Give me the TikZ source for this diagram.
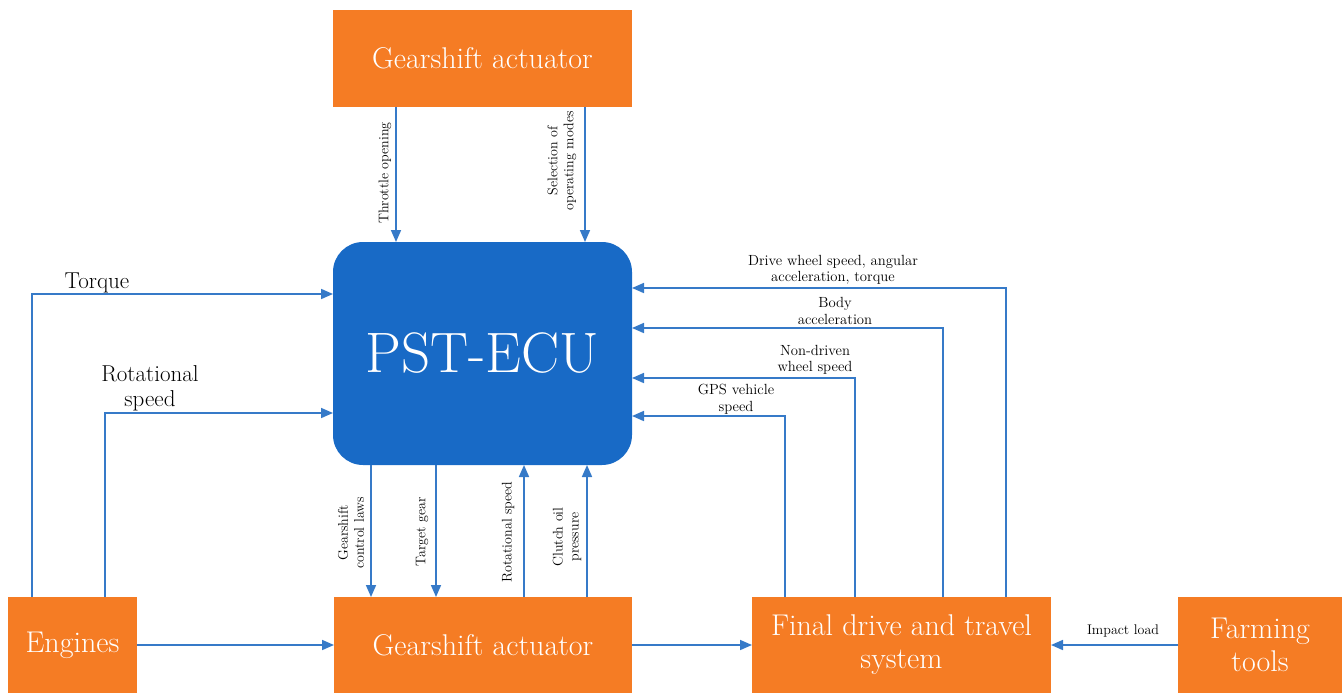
\documentclass[tikz,border=0pt]{standalone}
\usetikzlibrary{arrows.meta}
\definecolor{orangebox}{RGB}{245,124,36}
\definecolor{ecublue}{RGB}{24,106,198}
\definecolor{linkblue}{RGB}{54,122,200}
\begin{document}
\begin{tikzpicture}[x=1pt,y=-1pt,
  obox/.style={fill=orangebox, draw=none, text=white, inner sep=0pt, outer sep=0pt, align=center,
    font=\fontsize{30}{33}\selectfont},
  arr/.style={draw=linkblue, line width=1.7pt, -{Triangle[length=12pt,width=10pt]}},
  lab/.style={inner sep=0pt, align=center, font=\fontsize{14}{16}\selectfont},
  hlab/.style={inner sep=0pt, align=center, font=\fontsize{14.7}{16.5}\selectfont},
  biglab/.style={inner sep=0pt, align=center, font=\fontsize{23}{25}\selectfont}]
\useasboundingbox (0,0) rectangle (1342,693);
% boxes
\node[obox, minimum width=299pt, minimum height=97pt, anchor=north west] (gstop) at (333,10) {Gearshift actuator};
\node[fill=ecublue, rounded corners=30pt, text=white, inner sep=0pt, outer sep=0pt,
  minimum width=299pt, minimum height=223pt, anchor=north west,
  font=\fontsize{57}{64}\selectfont] (ecu) at (333,242) {PST-ECU};
\node[obox, minimum width=129pt, minimum height=96pt, anchor=north west] (eng) at (8,597) {Engines};
\node[obox, minimum width=298pt, minimum height=96pt, anchor=north west] (gsb) at (334,597) {Gearshift actuator};
\node[obox, minimum width=299pt, minimum height=96pt, anchor=north west] (fd) at (752,597) {Final drive and travel\\system};
\node[obox, minimum width=164pt, minimum height=96pt, anchor=north west] (farm) at (1178,597) {Farming\\tools};
% top arrows
\draw[arr] ([xshift=63pt]gstop.south west) -- ([xshift=63pt]ecu.north west);
\draw[arr] ([xshift=252pt]gstop.south west) -- ([xshift=252pt]ecu.north west);
\node[lab, rotate=90] (tthr) at (385,173) {Throttle opening};
\node[lab, rotate=90] (tsel) at (562,161) {Selection of\\operating modes};
% left arrows
\coordinate (l1) at ([xshift=24pt]eng.north west);
\coordinate (l2) at ([xshift=97pt]eng.north west);
\draw[arr] (l1) |- ([yshift=-52pt]ecu.north west);
\draw[arr] (l2) |- ([yshift=-171pt]ecu.north west);
\node[biglab] (ttor) at (97,283) {Torque};
\node[biglab] (trot) at (150,388) {Rotational\\speed};
% right arrows
\coordinate (r1) at ([xshift=254pt]fd.north west);
\coordinate (r2) at ([xshift=191pt]fd.north west);
\coordinate (r3) at ([xshift=103pt]fd.north west);
\coordinate (r4) at ([xshift=33pt]fd.north west);
\draw[arr] (r1) |- ([yshift=-46pt]ecu.north east);
\draw[arr] (r2) |- ([yshift=-86pt]ecu.north east);
\draw[arr] (r3) |- ([yshift=-136pt]ecu.north east);
\draw[arr] (r4) |- ([yshift=-174pt]ecu.north east);
\node[hlab] (tdw) at (833,270) {Drive wheel speed, angular\\acceleration, torque};
\node[hlab] (tba) at (835,311) {Body\\acceleration};
\node[hlab] (tnd) at (815,360) {Non-driven\\wheel speed};
\node[hlab] (tgps) at (736,399) {GPS vehicle\\speed};
% bottom arrows
\coordinate (b1) at ([xshift=38pt]ecu.south west);
\coordinate (b2) at ([xshift=103pt]ecu.south west);
\coordinate (b3) at ([xshift=191pt]ecu.south west);
\coordinate (b4) at ([xshift=254pt]ecu.south west);
\draw[arr] (b1) -- (b1 |- gsb.north);
\draw[arr] (b2) -- (b2 |- gsb.north);
\draw[arr] (b3 |- gsb.north) -- (b3);
\draw[arr] (b4 |- gsb.north) -- (b4);
\node[lab, rotate=90] (tgcl) at (351,533) {Gearshift\\control laws};
\node[lab, rotate=90] (ttg) at (422,532) {Target gear};
\node[lab, rotate=90] (trs) at (508,532) {Rotational speed};
\node[lab, rotate=90] (tcop) at (567,537) {Clutch oil\\pressure};
% horizontal flow
\draw[arr] (eng.east) -- (gsb.west);
\draw[arr] (gsb.east) -- (fd.west);
\draw[arr] (farm.west) -- (fd.east);
\node[lab] (timp) at (1123,631) {Impact load};
\end{tikzpicture}
\end{document}
